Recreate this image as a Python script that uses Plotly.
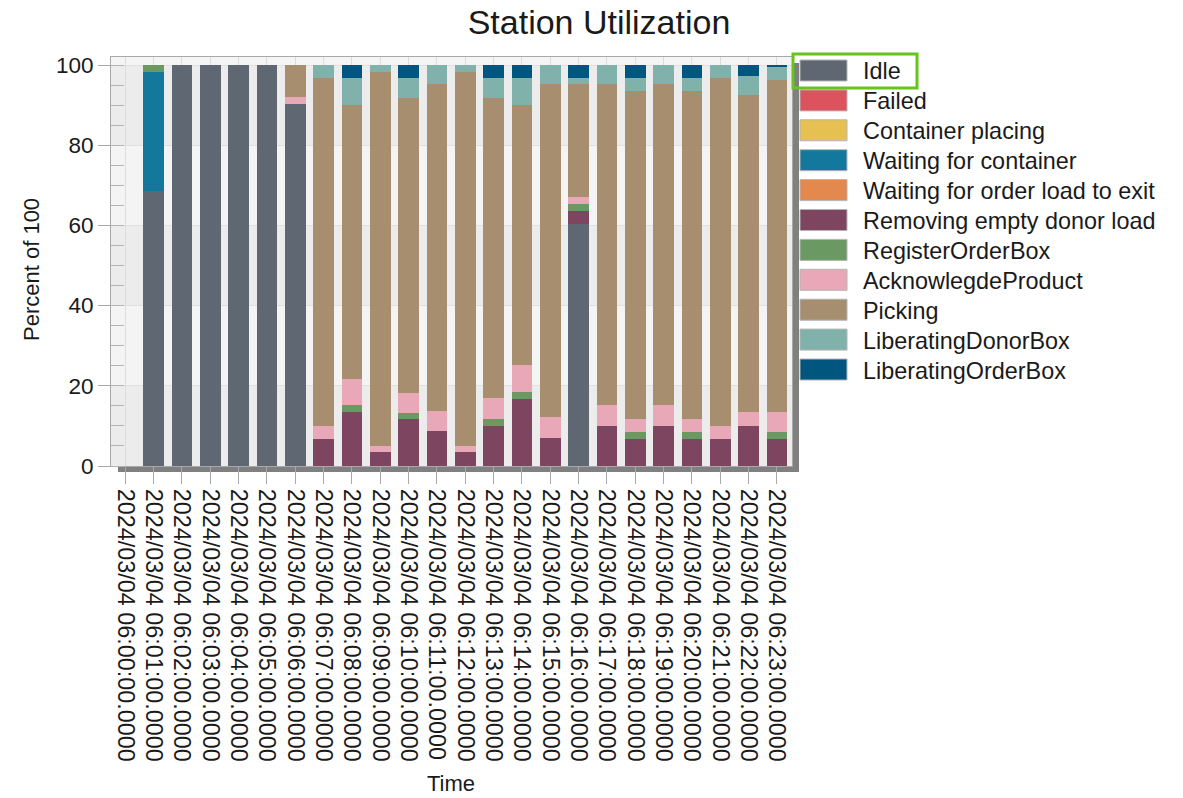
import plotly.graph_objects as go

times = [
    "2024/03/04 06:00:00.0000", "2024/03/04 06:01:00.0000", "2024/03/04 06:02:00.0000",
    "2024/03/04 06:03:00.0000", "2024/03/04 06:04:00.0000", "2024/03/04 06:05:00.0000",
    "2024/03/04 06:06:00.0000", "2024/03/04 06:07:00.0000", "2024/03/04 06:08:00.0000",
    "2024/03/04 06:09:00.0000", "2024/03/04 06:10:00.0000", "2024/03/04 06:11:00.0000",
    "2024/03/04 06:12:00.0000", "2024/03/04 06:13:00.0000", "2024/03/04 06:14:00.0000",
    "2024/03/04 06:15:00.0000", "2024/03/04 06:16:00.0000", "2024/03/04 06:17:00.0000",
    "2024/03/04 06:18:00.0000", "2024/03/04 06:19:00.0000", "2024/03/04 06:20:00.0000",
    "2024/03/04 06:21:00.0000", "2024/03/04 06:22:00.0000", "2024/03/04 06:23:00.0000",
]

idle = [0, 68.5, 100, 100, 100, 100, 90.3, 0, 0, 0, 0, 0, 0, 0, 0, 0, 60.4, 0, 0, 0, 0, 0, 0, 0]
failed = [0, 0, 0, 0, 0, 0, 0, 0, 0, 0, 0, 0, 0, 0, 0, 0, 0, 0, 0, 0, 0, 0, 0, 0]
container_placing = [0, 0, 0, 0, 0, 0, 0, 0, 0, 0, 0, 0, 0, 0, 0, 0, 0, 0, 0, 0, 0, 0, 0, 0]
waiting_container = [0, 29.8, 0, 0, 0, 0, 0, 0, 0, 0, 0, 0, 0, 0, 0, 0, 0, 0, 0, 0, 0, 0, 0, 0]
waiting_exit = [0, 0, 0, 0, 0, 0, 0, 0, 0, 0, 0, 0, 0, 0, 0, 0, 0, 0, 0, 0, 0, 0, 0, 0]
removing = [0, 0, 0, 0, 0, 0, 0, 6.8, 13.4, 3.4, 11.6, 8.7, 3.4, 10.1, 16.7, 7.0, 3.3, 10.0, 6.8, 10.0, 6.8, 6.8, 10.0, 6.8]
register = [0, 1.7, 0, 0, 0, 0, 0, 0, 1.7, 0, 1.7, 0, 0, 1.7, 1.7, 0, 1.7, 0, 1.7, 0, 1.7, 0, 0, 1.7]
acknowledge = [0, 0, 0, 0, 0, 0, 1.7, 3.3, 6.7, 1.7, 5.0, 5.0, 1.7, 5.1, 6.7, 5.1, 1.7, 5.1, 3.3, 5.1, 3.3, 3.3, 3.4, 4.9]
picking = [0, 0, 0, 0, 0, 0, 8.0, 86.6, 68.2, 93.2, 73.5, 81.5, 93.2, 75.0, 65.0, 83.1, 28.1, 80.1, 81.6, 80.1, 81.6, 86.6, 79.1, 82.9]
lib_donor = [0, 0, 0, 0, 0, 0, 0, 3.3, 6.7, 1.7, 4.9, 4.8, 1.7, 4.8, 6.6, 4.8, 1.5, 4.8, 3.3, 4.8, 3.3, 3.3, 4.8, 3.1]
lib_order = [0, 0, 0, 0, 0, 0, 0, 0, 3.3, 0, 3.3, 0, 0, 3.3, 3.3, 0, 3.3, 0, 3.3, 0, 3.3, 0, 2.7, 0.6]

series_names = [
    "Idle", "Failed", "Container placing", "Waiting for container",
    "Waiting for order load to exit", "Removing empty donor load",
    "RegisterOrderBox", "AcknowlegdeProduct", "Picking",
    "LiberatingDonorBox", "LiberatingOrderBox",
]
series_values = [
    idle, failed, container_placing, waiting_container, waiting_exit,
    removing, register, acknowledge, picking, lib_donor, lib_order,
]
series_colors = [
    "#5f6872", "#dc535d", "#e6c050", "#13789c", "#e3894e", "#7e4560",
    "#6a9a62", "#e8a8b8", "#a68e6e", "#80b2ab", "#00567e",
]

FONT = "Arial, Liberation Sans, sans-serif"
TXT = "#1a1a1a"

# figure size and plot-area geometry in window pixels
FW, FH = 1183, 798
L, R, T, B = 111, 792, 57, 466
W, H = R - L, B - T


def px_x(x):
    return (x - L) / W


def px_y(y):
    return (B - y) / H


fig = go.Figure()
for name, vals, col in zip(series_names, series_values, series_colors):
    fig.add_trace(go.Bar(
        x=times, y=vals, name=name,
        marker=dict(color=col, line=dict(width=0)),
        showlegend=False,
    ))

shapes = []
# alternating background bands
for lo in (0, 40, 80):
    shapes.append(dict(type="rect", xref="x domain", yref="y", x0=0, x1=1,
                       y0=lo, y1=min(lo + 20, 102), fillcolor="#ececec",
                       line=dict(width=0), layer="below"))
# drop shadow of the plot frame
shapes.append(dict(type="rect", xref="paper", yref="paper",
                   x0=px_x(792), x1=px_x(799), y0=px_y(472), y1=px_y(63),
                   fillcolor="#808080", line=dict(width=0), layer="below"))
shapes.append(dict(type="rect", xref="paper", yref="paper",
                   x0=px_x(118), x1=px_x(799), y0=px_y(472), y1=px_y(466),
                   fillcolor="#808080", line=dict(width=0), layer="below"))

annotations = []
# custom legend with wide swatches
for i, (name, col) in enumerate(zip(series_names, series_colors)):
    cy = 70.5 + 29.9 * i
    shapes.append(dict(type="rect", xref="paper", yref="paper",
                       x0=px_x(800), x1=px_x(847), y0=px_y(cy + 10.5), y1=px_y(cy - 10.5),
                       fillcolor=col, line=dict(color="#b4b4b4", width=1)))
    annotations.append(dict(xref="paper", yref="paper", x=px_x(861), y=px_y(cy + 1),
                            text=name, showarrow=False, xanchor="left", yanchor="middle",
                            font=dict(family=FONT, size=23.4, color=TXT)))
# selection highlight around first legend entry
shapes.append(dict(type="rect", xref="paper", yref="paper",
                   x0=px_x(793), x1=px_x(917), y0=px_y(88), y1=px_y(54),
                   line=dict(color="#66c41a", width=3)))

# axis titles
annotations.append(dict(xref="paper", yref="paper", x=px_x(451), y=px_y(783),
                        text="Time", showarrow=False, xanchor="center", yanchor="middle",
                        font=dict(family=FONT, size=22, color=TXT)))
annotations.append(dict(xref="paper", yref="paper", x=px_x(31), y=px_y(270),
                        text="Percent of 100", showarrow=False, textangle=-90,
                        xanchor="center", yanchor="middle",
                        font=dict(family=FONT, size=22, color=TXT)))

fig.update_layout(
    barmode="stack",
    bargap=0.27,
    width=FW, height=FH,
    margin=dict(l=L, r=FW - R, t=T, b=FH - B, autoexpand=False),
    paper_bgcolor="white",
    plot_bgcolor="#f4f4f4",
    font=dict(family=FONT, color=TXT),
    title=dict(text="Station Utilization", x=599 / FW, xref="container",
               xanchor="center", y=1 - 22 / FH, yref="container",
               yanchor="middle", font=dict(family=FONT, size=34, color=TXT)),
    shapes=shapes,
    annotations=annotations,
    showlegend=False,
)

fig.update_xaxes(
    type="category",
    range=[-0.5, 23.53],
    tickangle=90,
    tickfont=dict(family=FONT, size=23.4, color=TXT),
    ticks="outside", ticklen=17, tickcolor="#a8a8a8",
    showgrid=True, gridcolor="#dcdcdc", gridwidth=1,
    showline=True, linecolor="#a8a8a8", linewidth=1, mirror=True,
    automargin=False,
)
fig.update_yaxes(
    range=[0, 102],
    tickvals=[0, 20, 40, 60, 80, 100],
    tickfont=dict(family=FONT, size=22.5, color=TXT),
    ticks="outside", ticklen=12, tickcolor="#a8a8a8",
    minor=dict(dtick=5, tick0=0, ticks="inside", ticklen=13, tickcolor="#b4b4b4", showgrid=False),
    showgrid=True, gridcolor="#e0e0e0", gridwidth=1,
    showline=True, linecolor="#a8a8a8", linewidth=1, mirror=True,
    zeroline=False,
    automargin=False,
)

# remove the browser's default body margin so the figure starts at the window corner
fig.write_html("out.html", config={"displayModeBar": False},
               post_script="document.body.style.margin='0';")
